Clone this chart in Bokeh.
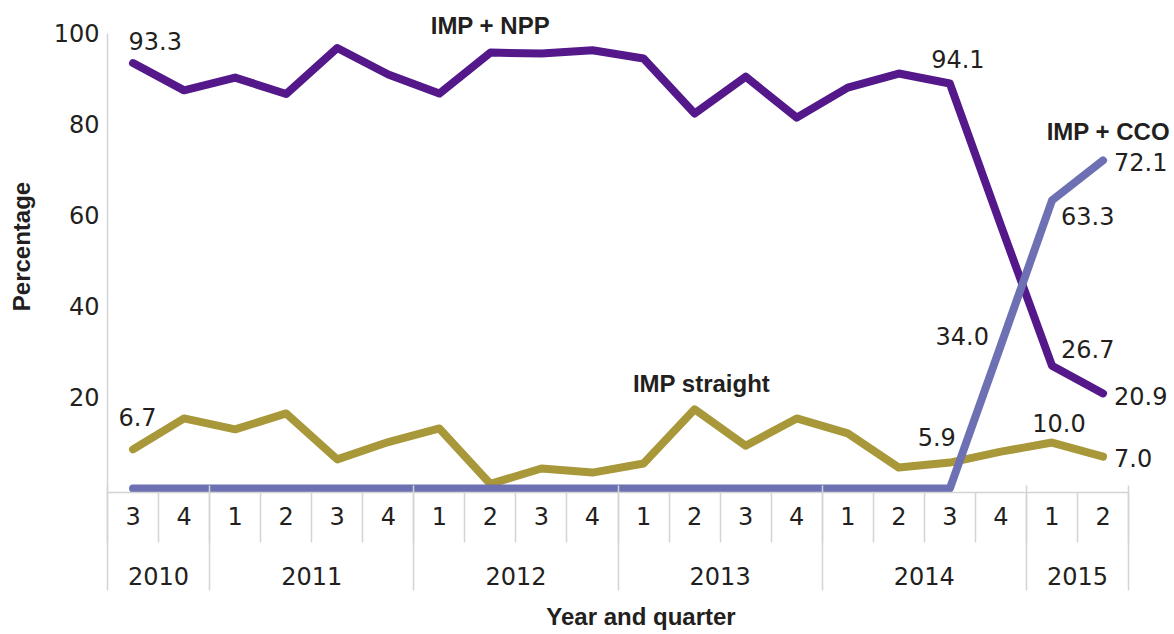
import numpy as np
from bokeh.plotting import figure
from bokeh.models import Range1d, FixedTicker, LinearAxis, Label
from bokeh.embed import file_html
from bokeh.resources import INLINE

# ---- data ----
quarter_labels = ["3", "4", "1", "2", "3", "4", "1", "2", "3", "4",
                  "1", "2", "3", "4", "1", "2", "3", "4", "1", "2"]
year_labels = ["2010", "2011", "2012", "2013", "2014", "2015"]
quarters_per_year = [2, 4, 4, 4, 4, 2]

imp_npp = [93.5, 87.5, 90.3, 86.7, 96.8, 91.0, 86.8, 95.8, 95.6, 96.3,
           94.5, 82.4, 90.5, 81.5, 88.1, 91.2, 89.0, 57.8, 27.0, 20.9]
imp_cco = [0.0, 0.0, 0.0, 0.0, 0.0, 0.0, 0.0, 0.0, 0.0, 0.0,
           0.0, 0.0, 0.0, 0.0, 0.0, 0.0, 0.0, 31.5, 63.3, 72.1]
imp_straight = [8.6, 15.4, 13.0, 16.5, 6.4, 10.2, 13.2, 1.0, 4.4, 3.5,
                5.5, 17.4, 9.4, 15.4, 12.1, 4.6, 5.7, 8.1, 10.1, 7.0]

y_ticks = [20, 40, 60, 80, 100]

series_names = ["IMP + NPP", "IMP + CCO", "IMP straight"]

# data labels: (quarter index, text)
npp_label_idx = [0, 16, 18, 19]
npp_label_txt = ["93.3", "94.1", "26.7", "20.9"]
cco_label_idx = [17, 18, 19]
cco_label_txt = ["34.0", "63.3", "72.1"]
str_label_idx = [0, 16, 18, 19]
str_label_txt = ["6.7", "5.9", "10.0", "7.0"]

# ---- style ----
C_NPP = "#54188a"
C_CCO = "#6d71b4"
C_STR = "#a8983a"
C_GRID = "#d4d4d4"
C_TEXT = "#231f20"
NUM_FONT = "DejaVu Sans"
LAB_FONT = "Liberation Sans"
NUM_SIZE = "24px"
LAB_SIZE = "24px"

n = len(quarter_labels)
x = np.arange(n) + 0.5
year_bounds = np.concatenate([[0], np.cumsum(quarters_per_year)]).astype(float)
year_centers = (year_bounds[:-1] + year_bounds[1:]) / 2.0

Y0, Y1 = -0.88, 107.25
p = figure(width=1174, height=634, output_backend="svg", toolbar_location=None,
           x_range=Range1d(0, 20.9), y_range=Range1d(Y0, Y1),
           x_axis_type=None, y_axis_type=None,
           min_border_left=107, min_border_right=0, min_border_top=0,
           min_border_bottom=142)
p.outline_line_color = None
p.background_fill_color = "white"

# y axis
yax = LinearAxis(ticker=FixedTicker(ticks=y_ticks), bounds=(Y0, 100))
yax.axis_line_color = C_GRID
yax.axis_line_width = 1.5
yax.major_tick_line_color = None
yax.minor_tick_line_color = None
yax.major_tick_out = 0
yax.major_tick_in = 0
yax.minor_tick_out = 0
yax.minor_tick_in = 0
yax.major_label_standoff = 8
yax.major_label_text_font = NUM_FONT
yax.major_label_text_font_size = NUM_SIZE
yax.major_label_text_color = C_TEXT
yax.axis_label = "Percentage"
yax.axis_label_text_font = LAB_FONT
yax.axis_label_text_font_size = LAB_SIZE
yax.axis_label_text_font_style = "bold"
yax.axis_label_text_color = C_TEXT
yax.axis_label_standoff = 16
p.add_layout(yax, "left")

# quarter axis (separators as minor ticks)
Q_SEP = 50
qax = LinearAxis(ticker=FixedTicker(ticks=list(x), minor_ticks=list(np.arange(n + 1, dtype=float))),
                 bounds=(0, n))
qax.major_label_overrides = {float(xx): q for xx, q in zip(x, quarter_labels)}
qax.axis_line_color = C_GRID
qax.axis_line_width = 1.5
qax.major_tick_line_color = None
qax.major_tick_out = 0
qax.major_tick_in = 0
qax.minor_tick_line_color = C_GRID
qax.minor_tick_line_width = 1.5
qax.minor_tick_out = Q_SEP
qax.minor_tick_in = 0
qax.major_label_standoff = 14 - Q_SEP
qax.major_label_text_font = NUM_FONT
qax.major_label_text_font_size = NUM_SIZE
qax.major_label_text_color = C_TEXT
p.add_layout(qax, "below")

# year axis (year separators as minor ticks reaching up to the baseline)
Y_OUT = 63
yrax = LinearAxis(ticker=FixedTicker(ticks=list(year_centers), minor_ticks=list(year_bounds)),
                  bounds=(0, n))
yrax.major_label_overrides = {float(c): y for c, y in zip(year_centers, year_labels)}
yrax.axis_line_color = None
yrax.major_tick_line_color = None
yrax.major_tick_out = 0
yrax.major_tick_in = 0
yrax.minor_tick_line_color = C_GRID
yrax.minor_tick_line_width = 1.5
yrax.minor_tick_in = 42
yrax.minor_tick_out = Y_OUT
yrax.major_label_standoff = 39 - Y_OUT
yrax.major_label_text_font = NUM_FONT
yrax.major_label_text_font_size = NUM_SIZE
yrax.major_label_text_color = C_TEXT
yrax.axis_label = "Year and quarter"
yrax.axis_label_text_font = LAB_FONT
yrax.axis_label_text_font_size = LAB_SIZE
yrax.axis_label_text_font_style = "bold"
yrax.axis_label_text_color = C_TEXT
yrax.axis_label_standoff = 15
p.add_layout(yrax, "below")

# series
LW = 8
p.line(x, imp_straight, line_color=C_STR, line_width=LW, line_cap="round", line_join="round")
p.line(x, imp_npp, line_color=C_NPP, line_width=LW, line_cap="round", line_join="round")
p.line(x, imp_cco, line_color=C_CCO, line_width=LW, line_cap="round", line_join="round")


def add_label(i, vals, text, dx, dy, align, bold=False):
    p.add_layout(Label(x=x[i], y=vals[i], text=text, x_offset=dx, y_offset=dy,
                       text_align=align, text_baseline="middle",
                       text_font=LAB_FONT if bold else NUM_FONT,
                       text_font_size=LAB_SIZE if bold else NUM_SIZE,
                       text_font_style="bold" if bold else "normal",
                       text_color=C_TEXT))


# data labels: offsets in screen px
npp_offsets = [(-4.5, 22, "left"), (8, 25, "center"), (9, 17, "left"), (11, -3, "left")]
for i, t, (dx, dy, a) in zip(npp_label_idx, npp_label_txt, npp_offsets):
    add_label(i, imp_npp, t, dx, dy, a)
cco_offsets = [(-12, 9, "right"), (9, -16, "left"), (11, -2, "left")]
for i, t, (dx, dy, a) in zip(cco_label_idx, cco_label_txt, cco_offsets):
    add_label(i, imp_cco, t, dx, dy, a)
str_offsets = [(4.5, 32, "center"), (6, 25.5, "right"), (7, 20, "center"), (11, -1, "left")]
for i, t, (dx, dy, a) in zip(str_label_idx, str_label_txt, str_offsets):
    add_label(i, imp_straight, t, dx, dy, a)

# series names
add_label(7, imp_npp, series_names[0], 0, 27, "center", bold=True)
add_label(19, imp_cco, series_names[1], 67, 29, "right", bold=True)
add_label(11, imp_straight, series_names[2], 7, 26, "center", bold=True)

open("out.html", "w").write(file_html(p, INLINE))
